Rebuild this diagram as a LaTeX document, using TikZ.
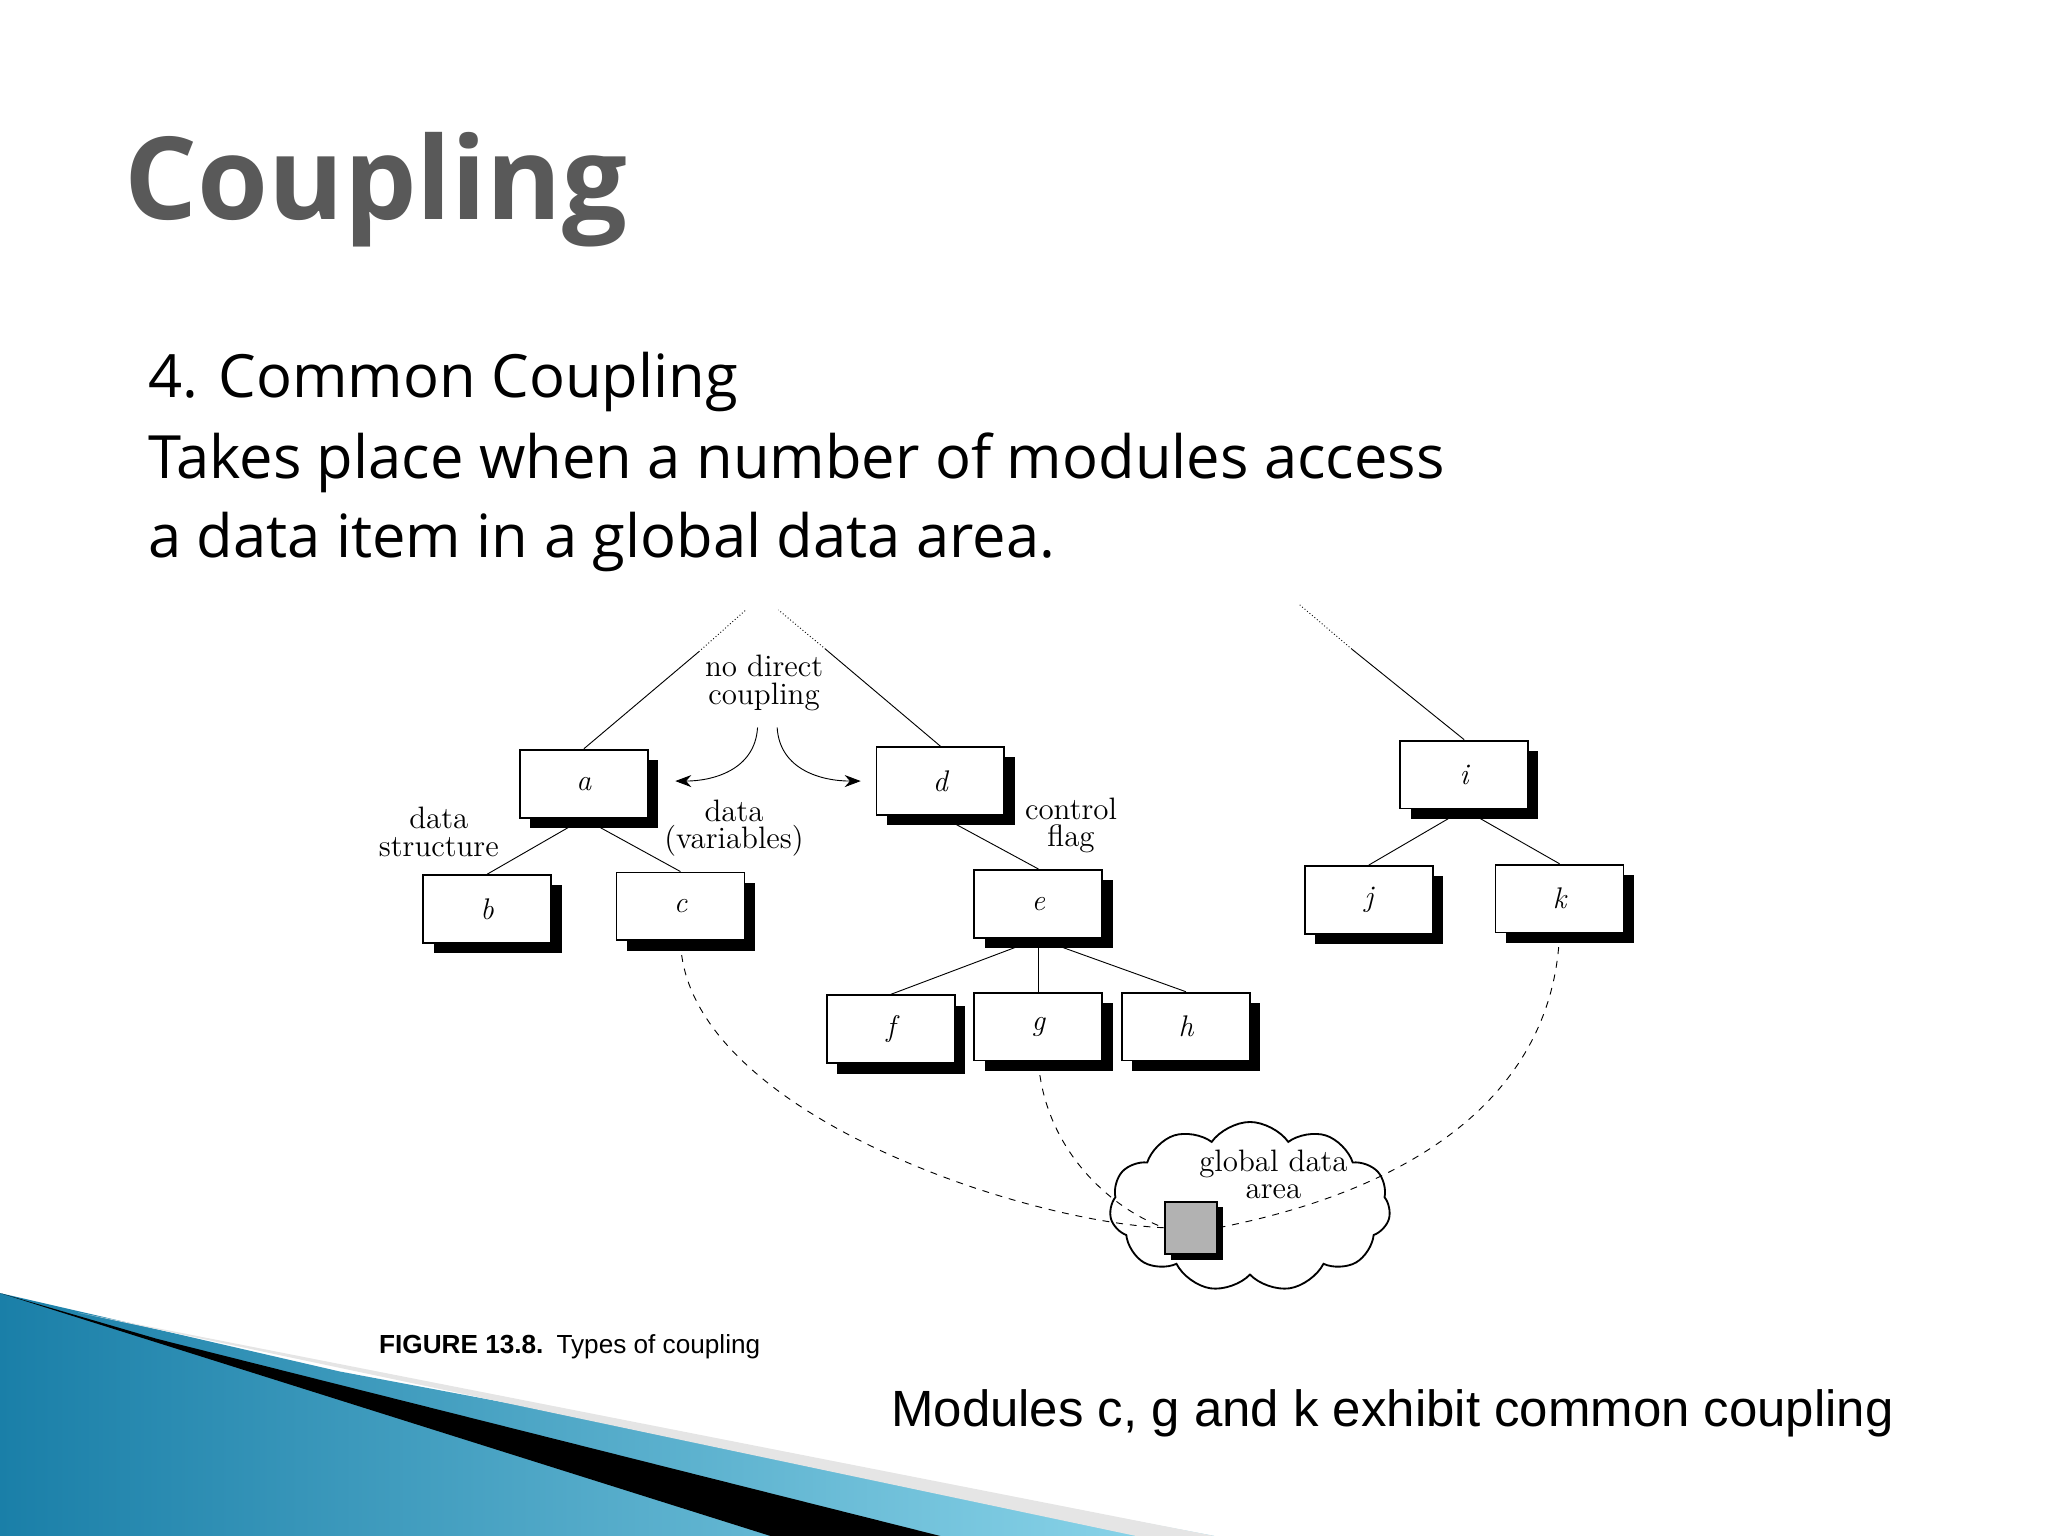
\documentclass[tikz,border=0pt]{standalone}
\usepackage{fontspec}
\newfontfamily\titlefont{Open Sans}
\newfontfamily\armfont{Liberation Sans}
\usetikzlibrary{shadows,shapes.symbols,arrows.meta}
\definecolor{titlegray}{HTML}{595959}
\definecolor{deco1}{HTML}{1A7FA8}
\definecolor{deco2}{HTML}{8FD8EC}
\begin{document}
\begin{tikzpicture}[x=0.02cm,y=-0.02cm,
  mod/.style={draw,thick,fill=white,minimum width=1.96cm,minimum height=1.04cm,inner sep=0pt,
     font=\fontsize{13}{15}\selectfont\itshape,
     drop shadow={shadow xshift=4.5pt,shadow yshift=-4.5pt,fill=black,opacity=1}},
  lbl/.style={font=\fontsize{13.5}{15}\selectfont,align=center},
  link/.style={thin},
  dsh/.style={dashed,thin}]
\useasboundingbox (0,0) rectangle (1568,1176);
% bottom-left decoration
\shade[left color=deco1,right color=deco2] (0,990) -- (260,1050) -- (930,1176) -- (0,1176) -- cycle;
\fill[black!10] (60,1005) -- (930,1176) -- (870,1176) -- cycle;
\fill[black] (0,990) -- (120,1025) -- (720,1176) -- (590,1176) -- cycle;
% title and text
\node[anchor=base west,inner sep=0pt,text=titlegray,font=\titlefont\bfseries\fontsize{50}{60}\selectfont] (title) at (95,168) {Coupling};
\node[anchor=base west,inner sep=0pt,font=\titlefont\fontsize{26}{34}\selectfont] (t1) at (113,304) {4. Common Coupling};
\node[anchor=base west,inner sep=0pt,font=\titlefont\fontsize{26}{34}\selectfont] (t2) at (113,366) {Takes place when a number of modules access};
\node[anchor=base west,inner sep=0pt,font=\titlefont\fontsize{26}{34}\selectfont] (t3) at (113,427) {a data item in a global data area.};
% modules
\node[mod] (a) at (447,600) {a};
\node[mod] (d) at (720,598) {d};
\node[mod] (i) at (1121,593) {i};
\node[mod] (b) at (373,696) {b};
\node[mod] (c) at (521,694) {c};
\node[mod] (e) at (795,692) {e};
\node[mod] (j) at (1048,689) {j};
\node[mod] (k) at (1194,688) {k};
\node[mod] (f) at (682,788) {f};
\node[mod] (g) at (795,786) {g};
\node[mod] (h) at (908,786) {h};
% top links
\coordinate (pa) at (535,499); \coordinate (pa2) at (571,467);
\coordinate (pd) at (632,497); \coordinate (pd2) at (596,467);
\coordinate (pi) at (1035,497); \coordinate (pi2) at (995,463);
\draw[link] (a.north) -- (pa); \draw[densely dotted] (pa) -- (pa2);
\draw[link] (d.north) -- (pd); \draw[densely dotted] (pd) -- (pd2);
\draw[link] (i.north) -- (pi); \draw[densely dotted] (pi) -- (pi2);
\draw[link] (a.south) -- (b.north);
\draw[link] (a.south) -- (c.north);
\draw[link] (d.south) -- (e.north);
\draw[link] (e.south) -- (f.north);
\draw[link] (e.south) -- (g.north);
\draw[link] (e.south) -- (h.north);
\draw[link] (i.south) -- (j.north);
\draw[link] (i.south) -- (k.north);
% labels
\node[lbl] (ndc) at (585,523) {no direct\\[-3pt]coupling};
\node[lbl] (ds) at (336,637) {data\\[-3pt]structure};
\node[lbl] (dv) at (562,634) {data\\[-3pt](variables)};
\node[lbl] (cf) at (820,632) {control\\[-3pt]flag};
% curved arrows
\coordinate (q1) at (580,557); \coordinate (q1e) at (517,598);
\coordinate (q2) at (595,557); \coordinate (q2e) at (659,598);
\draw[-{Stealth[length=7pt]}] (q1) .. controls (578,590) and (545,598) .. (q1e);
\draw[-{Stealth[length=7pt]}] (q2) .. controls (597,590) and (630,598) .. (q2e);
% cloud
\node[cloud,draw,thick,cloud puffs=11,cloud puff arc=110,aspect=1.7,minimum width=4.3cm,minimum height=2.6cm] (cl) at (957,924) {};
\node[lbl] (gda) at (975,899) {global data\\[-3pt]area};
\node[draw,thick,fill=black!30,minimum size=0.8cm,inner sep=0pt,
  drop shadow={shadow xshift=2.5pt,shadow yshift=-2.5pt,fill=black,opacity=1}] (sq) at (912,940) {};
% dashed links
\draw[dsh] (c.south) .. controls (525,850) and (780,935) .. (sq.west);
\draw[dsh] (g.south) .. controls (800,880) and (850,925) .. (sq.west);
\draw[dsh] (k.south) .. controls (1190,820) and (1110,905) .. (sq.east);
% captions
\node[anchor=base west,inner sep=0pt,font=\armfont\fontsize{11.4}{13}\selectfont] (fig) at (290,1036) {\textbf{FIGURE 13.8.}\enspace Types of coupling};
\node[anchor=base west,inner sep=0pt,font=\armfont\fontsize{22.2}{26}\selectfont] (mods) at (682,1092) {Modules c, g and k exhibit common coupling};
\end{tikzpicture}
\end{document}
